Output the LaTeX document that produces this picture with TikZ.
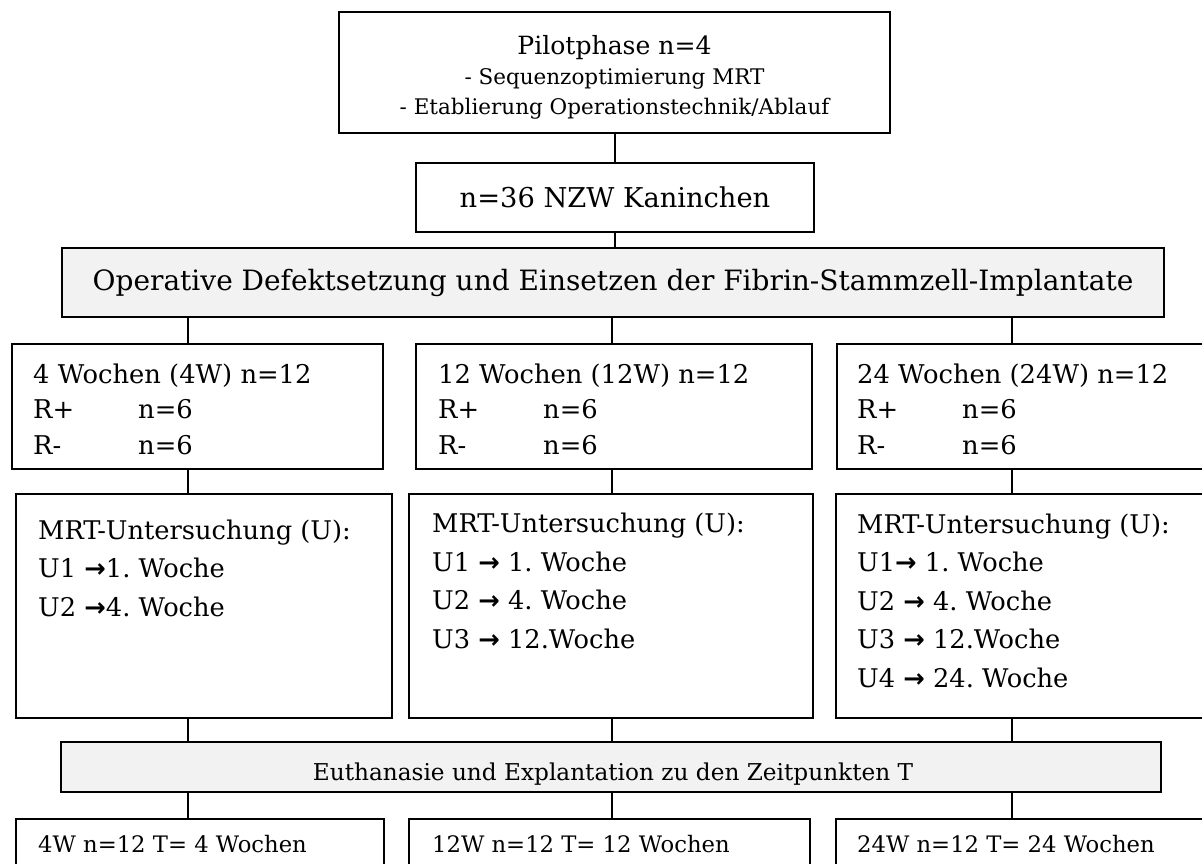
\documentclass[tikz,border=0pt]{standalone}
\usepackage{fontspec}
\setmainfont{DejaVu Serif}
\newfontfamily\arrowfont{DejaVu Sans}
\usetikzlibrary{calc}
\definecolor{boxgray}{HTML}{F2F2F2}
\newcommand{\toarrow}{{\arrowfont\bfseries →}}

\begin{document}
\frenchspacing
\begin{tikzpicture}[x=1pt,y=-1pt,
  box/.style={draw=black, line width=2.2pt, inner sep=0pt},
  graybox/.style={box, fill=boxgray},
  link/.style={black, line width=2pt},
  rowtxt/.style={anchor=base west, inner sep=0pt, align=left, font=\fontsize{25.8}{35.5}\selectfont},
  mrttxt/.style={anchor=base west, inner sep=0pt, align=left, font=\fontsize{25.7}{38.5}\selectfont},
  endtxt/.style={anchor=base west, inner sep=0pt, font=\fontsize{22.7}{30}\selectfont}]

\clip (0,0) rectangle (1202,863);
\fill[white] (0,0) rectangle (1202,863);

\coordinate (c1) at (188,0);
\coordinate (c2) at (612,0);
\coordinate (c3) at (1012,0);

\node[box, minimum width=551, minimum height=121, align=center, font=\fontsize{21.5}{30}\selectfont] (pilot) at (614.5,72.5)
  {\rule{0pt}{29pt}{\fontsize{25.1}{30}\selectfont Pilotphase n=4}\\- Sequenzoptimierung MRT\\- Etablierung Operationstechnik/Ablauf};
\node[box, minimum width=398, minimum height=69, font=\fontsize{27.3}{34}\selectfont] (n36) at (615,197.5) {n=36 NZW Kaninchen};
\node[graybox, minimum width=1102, minimum height=69, font=\fontsize{28}{34}\selectfont] (op) at (613,282.5)
  {Operative Defektsetzung und Einsetzen der Fibrin-Stammzell-Implantate};

\node[box, anchor=north west, minimum width=371, minimum height=125] (w4) at (11,343) {};
\node[box, anchor=north west, minimum width=396, minimum height=125] (w12) at (415,343) {};
\node[box, anchor=north west, minimum width=380, minimum height=125] (w24) at (836,343) {};
\node[rowtxt] (w4t) at (33,454) {4 Wochen (4W) n=12\\\makebox[105pt][l]{R+}n=6\\\makebox[105pt][l]{R-}n=6};
\node[rowtxt] (w12t) at (438,454) {12 Wochen (12W) n=12\\\makebox[105pt][l]{R+}n=6\\\makebox[105pt][l]{R-}n=6};
\node[rowtxt] (w24t) at (857,454) {24 Wochen (24W) n=12\\\makebox[105pt][l]{R+}n=6\\\makebox[105pt][l]{R-}n=6};

\node[box, anchor=north west, minimum width=376, minimum height=224] (u4) at (15,493) {};
\node[box, anchor=north west, minimum width=404, minimum height=224] (u12) at (408,493) {};
\node[box, anchor=north west, minimum width=380, minimum height=224] (u24) at (835,493) {};
\node[mrttxt] (u4t) at (38,616) {MRT-Untersuchung (U):\\U1 \toarrow1. Woche\\U2 \toarrow4. Woche};
\node[mrttxt] (u12t) at (432,648) {MRT-Untersuchung (U):\\U1 \toarrow{} 1. Woche\\U2 \toarrow{} 4. Woche\\U3 \toarrow{} 12.Woche};
\node[mrttxt] (u24t) at (857,687) {MRT-Untersuchung (U):\\U1\toarrow{} 1. Woche\\U2 \toarrow{} 4. Woche\\U3 \toarrow{} 12.Woche\\U4 \toarrow{} 24. Woche};

\node[graybox, minimum width=1100, minimum height=50] (euth) at (611,767) {};
\node[anchor=base, inner sep=0pt, font=\fontsize{23.2}{30}\selectfont] (eutht) at (613,780) {Euthanasie und Explantation zu den Zeitpunkten T};

\node[box, anchor=north west, minimum width=368, minimum height=100] (b4) at (15,818) {};
\node[box, anchor=north west, minimum width=401, minimum height=100] (b12) at (408,818) {};
\node[box, anchor=north west, minimum width=380, minimum height=100] (b24) at (835,818) {};
\node[endtxt] (b4t) at (38,852) {4W n=12 T= 4 Wochen};
\node[endtxt] (b12t) at (432,852) {12W n=12 T= 12 Wochen};
\node[endtxt] (b24t) at (857,852) {24W n=12 T= 24 Wochen};

\draw[link] (pilot.south) -- (pilot.south |- n36.north);
\draw[link] (n36.south) -- (n36.south |- op.north);
\draw[link] (c1 |- op.south) -- (c1 |- w4.north);
\draw[link] (c2 |- op.south) -- (c2 |- w12.north);
\draw[link] (c3 |- op.south) -- (c3 |- w24.north);
\draw[link] (c1 |- w4.south) -- (c1 |- u4.north);
\draw[link] (c2 |- w12.south) -- (c2 |- u12.north);
\draw[link] (c3 |- w24.south) -- (c3 |- u24.north);
\draw[link] (c1 |- u4.south) -- (c1 |- euth.north);
\draw[link] (c2 |- u12.south) -- (c2 |- euth.north);
\draw[link] (c3 |- u24.south) -- (c3 |- euth.north);
\draw[link] (c1 |- euth.south) -- (c1 |- b4.north);
\draw[link] (c2 |- euth.south) -- (c2 |- b12.north);
\draw[link] (c3 |- euth.south) -- (c3 |- b24.north);

\end{tikzpicture}
\end{document}
